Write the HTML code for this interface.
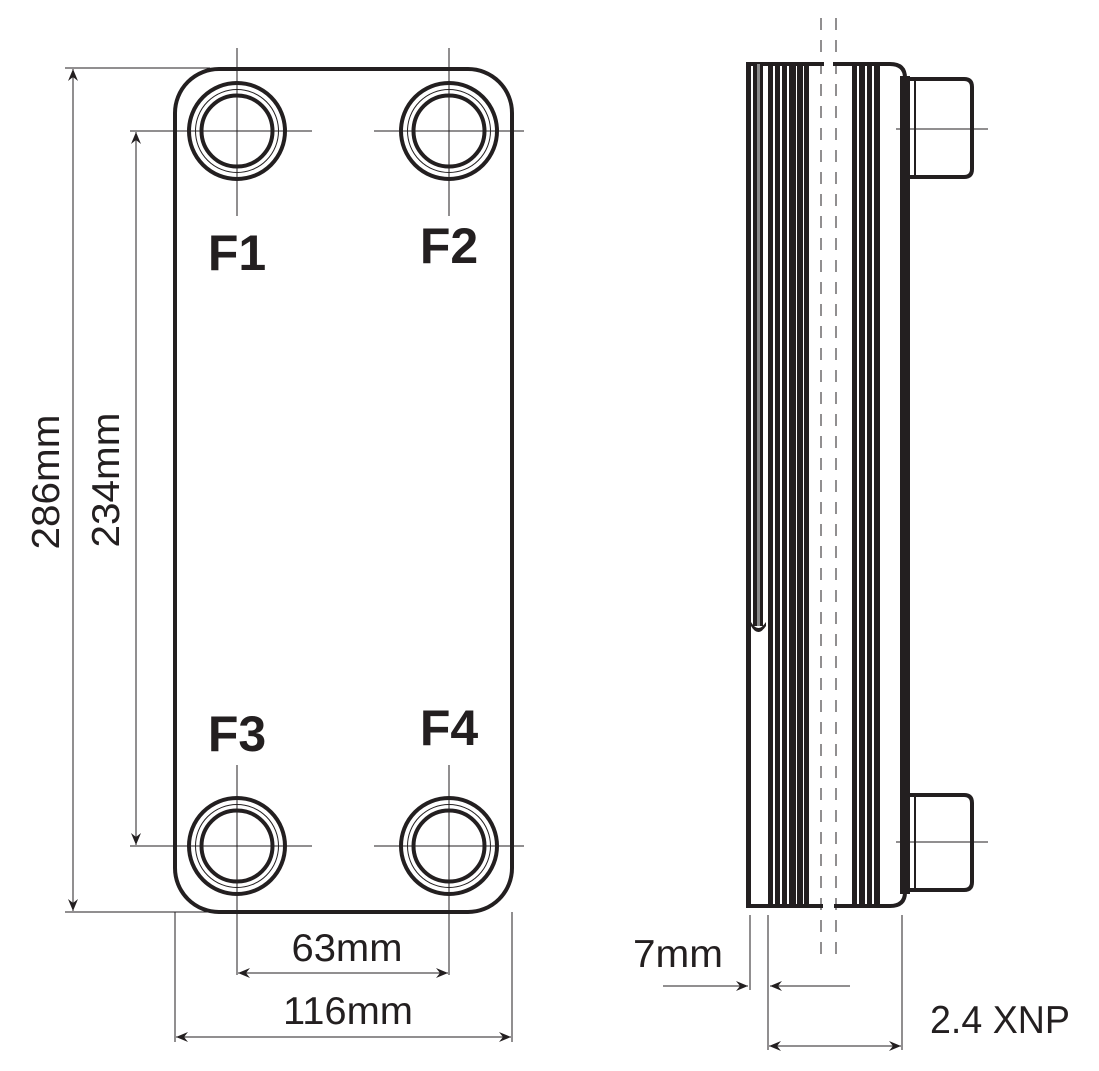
<!DOCTYPE html>
<html><head><meta charset="utf-8"><style>
html,body{margin:0;padding:0;background:#fff;}
svg{display:block;}
text{font-family:"Liberation Sans",sans-serif;fill:#231f20;}
</style></head><body>
<svg width="1099" height="1071" viewBox="0 0 1099 1071" xmlns="http://www.w3.org/2000/svg">
<defs>
<marker id="ah" viewBox="0 0 12 10" refX="12" refY="5" markerWidth="12" markerHeight="10" markerUnits="userSpaceOnUse" orient="auto-start-reverse">
<path d="M0,0 L12,5 L0,10 L4,5 Z" fill="#231f20"/>
</marker>
</defs>
<g stroke="#231f20" fill="none">
<rect x="175" y="69" width="337" height="843" rx="44" stroke-width="4"/>
<g stroke-width="4">
<circle cx="237" cy="131" r="48"/><circle cx="237" cy="131" r="35.5"/>
<circle cx="449" cy="131" r="48"/><circle cx="449" cy="131" r="35.5"/>
<circle cx="237" cy="846" r="48"/><circle cx="237" cy="846" r="35.5"/>
<circle cx="449" cy="846" r="48"/><circle cx="449" cy="846" r="35.5"/>
</g>
<g stroke-width="1">
<circle cx="237" cy="131" r="41.5"/><circle cx="449" cy="131" r="41.5"/>
<circle cx="237" cy="846" r="41.5"/><circle cx="449" cy="846" r="41.5"/>
<line x1="237" y1="48" x2="237" y2="216"/><line x1="449" y1="48" x2="449" y2="216"/>
<line x1="130" y1="131" x2="312" y2="131"/><line x1="374" y1="131" x2="524" y2="131"/>
<line x1="237" y1="765" x2="237" y2="975"/><line x1="449" y1="765" x2="449" y2="975"/>
<line x1="130" y1="846" x2="312" y2="846"/><line x1="374" y1="846" x2="524" y2="846"/>
<line x1="65" y1="68" x2="210" y2="68"/><line x1="65" y1="912" x2="210" y2="912"/>
<line x1="73" y1="69" x2="73" y2="911" marker-start="url(#ah)" marker-end="url(#ah)"/>
<line x1="136" y1="132" x2="136" y2="845" marker-start="url(#ah)" marker-end="url(#ah)"/>
<line x1="175" y1="912" x2="175" y2="1042"/><line x1="512" y1="912" x2="512" y2="1042"/>
<line x1="238" y1="973" x2="448" y2="973" marker-start="url(#ah)" marker-end="url(#ah)"/>
<line x1="176" y1="1037" x2="511" y2="1037" marker-start="url(#ah)" marker-end="url(#ah)"/>
</g>
<g stroke-width="1">
<line x1="821" y1="18" x2="821" y2="955" stroke-dasharray="12,10"/>
<line x1="836" y1="18" x2="836" y2="955" stroke-dasharray="12,10"/>
<line x1="896" y1="129" x2="988" y2="129"/>
<line x1="896" y1="842" x2="988" y2="842"/>
<line x1="750" y1="915" x2="750" y2="990"/>
<line x1="768" y1="915" x2="768" y2="1050"/>
<line x1="902" y1="915" x2="902" y2="1050"/>
<line x1="663" y1="986" x2="748" y2="986" marker-end="url(#ah)"/>
<line x1="850" y1="986" x2="770" y2="986" marker-end="url(#ah)"/>
<line x1="769" y1="1046" x2="901" y2="1046" marker-start="url(#ah)" marker-end="url(#ah)"/>
</g>
</g>
<g fill="#231f20">
<!-- left edge -->
<rect x="746" y="62" width="5" height="846"/>
<!-- top/bottom lines -->
<rect x="746" y="62" width="78" height="4"/>
<rect x="746" y="904" width="77" height="4"/>
<!-- upper left stripes -->
<rect x="753" y="64" width="4" height="562"/>
<rect x="757" y="64" width="3" height="562" fill="#8a8a8a"/>
<rect x="760" y="64" width="3" height="562"/>
<path d="M751,622 Q758,634 766,622 L766,626 Q758,638 751,626 Z"/>
<!-- stripes -->
<rect x="768" y="64" width="5" height="842"/>
<rect x="775" y="64" width="5" height="842"/>
<rect x="782" y="64" width="5" height="842"/>
<rect x="789" y="64" width="7" height="842"/>
<rect x="797" y="64" width="6" height="842"/>
<rect x="804" y="64" width="5" height="842"/>
<rect x="852" y="64" width="5" height="842"/>
<rect x="859" y="64" width="6" height="842"/>
<rect x="867" y="64" width="5" height="842"/>
<rect x="874" y="64" width="6" height="842"/>
<rect x="900" y="76" width="10" height="818"/>
</g>
<g stroke="#231f20" fill="none" stroke-width="4">
<path d="M833,64 H890 Q905,64 905,78 V892 Q905,906 890,906 H834"/>
<path d="M910,79 H964 Q972,79 972,87 V169 Q972,177 964,177 H910"/>
<path d="M910,795 H964 Q972,795 972,803 V882 Q972,890 964,890 H910"/>
<line x1="915" y1="79" x2="915" y2="177" stroke-width="2"/>
<line x1="915" y1="795" x2="915" y2="890" stroke-width="2"/>
</g>
<g font-weight="bold" font-size="50">
<text x="237" y="270" text-anchor="middle">F1</text>
<text x="449" y="263" text-anchor="middle">F2</text>
<text x="237" y="751" text-anchor="middle">F3</text>
<text x="449" y="745" text-anchor="middle">F4</text>
</g>
<g font-size="39">
<text x="347" y="961" text-anchor="middle" textLength="111" lengthAdjust="spacingAndGlyphs">63mm</text>
<text x="348" y="1024" text-anchor="middle" textLength="130" lengthAdjust="spacingAndGlyphs">116mm</text>
<text transform="translate(59,482) rotate(-90)" text-anchor="middle" textLength="135" lengthAdjust="spacingAndGlyphs">286mm</text>
<text transform="translate(119,480) rotate(-90)" text-anchor="middle" textLength="135" lengthAdjust="spacingAndGlyphs">234mm</text>
<text x="633" y="967" textLength="90" lengthAdjust="spacingAndGlyphs">7mm</text>
<text x="930" y="1033" textLength="140" lengthAdjust="spacingAndGlyphs">2.4 XNP</text>
</g>
</svg>
</body></html>
